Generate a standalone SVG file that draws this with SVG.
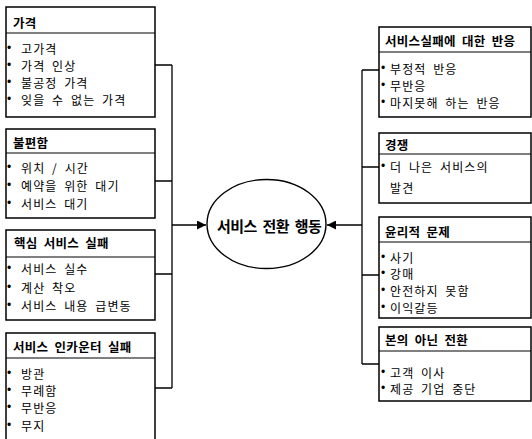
<svg xmlns="http://www.w3.org/2000/svg" width="532" height="439" viewBox="0 0 532 439">
<defs>
<style>
.box{fill:#fff;stroke:#000;stroke-width:1.5}
.div{stroke:#000;stroke-width:1.2}
.ln{fill:none;stroke:#000;stroke-width:1.3}
.t{font-family:"Noto Sans CJK KR","Noto Sans",sans-serif;font-size:12px;letter-spacing:1.1px;word-spacing:3px;fill:#000;dominant-baseline:central}
.bu{font-family:"Liberation Sans",sans-serif;font-size:12px;letter-spacing:0}
.h{font-size:12.5px;font-weight:bold;letter-spacing:0.3px}
.c{font-size:15px;font-weight:bold}
</style>
<marker id="ah" viewBox="0 0 10 10" refX="10" refY="5" markerWidth="9" markerHeight="9" markerUnits="userSpaceOnUse" orient="auto">
<path d="M0,0 L10,5 L0,10 z" fill="#000"/>
</marker>
</defs>
<rect width="532" height="439" fill="#fff"/>
<g id="connectors">
<path class="ln" d="M155,65 H172 M155,181 H172 M155,274 H172 M155,388 H172 M172,65 V388"/>
<path class="ln" d="M172,225 H206" marker-end="url(#ah)"/>
<path class="ln" d="M379,70 H362 M379,167 H362 M379,275 H362 M379,364 H362 M362,70 V364"/>
<path class="ln" d="M362,225 H327" marker-end="url(#ah)"/>
</g>
<g id="center">
<ellipse cx="266.500" cy="224" rx="59.500" ry="44.500" fill="#fff" stroke="#000" stroke-width="1.4"/>
<text class="t c" x="217" y="225" textLength="106" lengthAdjust="spacing">서비스 전환 행동</text>
</g>
<g id="price">
<rect class="box" x="6" y="7" width="149" height="110"/>
<line class="div" x1="6" y1="33" x2="155" y2="33"/>
<text class="t h" x="13" y="22">가격</text>
<text class="t" x="7" y="48"><tspan class="bu">•</tspan><tspan x="21">고가격</tspan></text>
<text class="t" x="7" y="65"><tspan class="bu">•</tspan><tspan x="21">가격 인상</tspan></text>
<text class="t" x="7" y="82"><tspan class="bu">•</tspan><tspan x="21">불공정 가격</tspan></text>
<text class="t" x="7" y="99"><tspan class="bu">•</tspan><tspan x="21">잊을 수 없는 가격</tspan></text>
</g>
<g id="inconvenience">
<rect class="box" x="6" y="129" width="149" height="89"/>
<line class="div" x1="6" y1="153" x2="155" y2="153"/>
<text class="t h" x="13" y="142">불편함</text>
<text class="t" x="7" y="167"><tspan class="bu">•</tspan><tspan x="21">위치 / 시간</tspan></text>
<text class="t" x="7" y="185"><tspan class="bu">•</tspan><tspan x="21">예약을 위한 대기</tspan></text>
<text class="t" x="7" y="203"><tspan class="bu">•</tspan><tspan x="21">서비스 대기</tspan></text>
</g>
<g id="core">
<rect class="box" x="6" y="230" width="149" height="90"/>
<line class="div" x1="6" y1="257" x2="155" y2="257"/>
<text class="t h" x="14" y="242" word-spacing="8">핵심 서비스 실패</text>
<text class="t" x="7" y="268"><tspan class="bu">•</tspan><tspan x="21">서비스 실수</tspan></text>
<text class="t" x="7" y="287"><tspan class="bu">•</tspan><tspan x="21">계산 착오</tspan></text>
<text class="t" x="7" y="305"><tspan class="bu">•</tspan><tspan x="21">서비스 내용 급변동</tspan></text>
</g>
<g id="encounter">
<rect class="box" x="6" y="333" width="149" height="110"/>
<line class="div" x1="6" y1="358" x2="155" y2="358"/>
<text class="t h" x="13" y="346">서비스 인카운터 실패</text>
<text class="t" x="7" y="373"><tspan class="bu">•</tspan><tspan x="21">방관</tspan></text>
<text class="t" x="7" y="390"><tspan class="bu">•</tspan><tspan x="21">무례함</tspan></text>
<text class="t" x="7" y="407"><tspan class="bu">•</tspan><tspan x="21">무반응</tspan></text>
<text class="t" x="7" y="425"><tspan class="bu">•</tspan><tspan x="21">무지</tspan></text>
</g>
<g id="response">
<rect class="box" x="379" y="27" width="152" height="90"/>
<line class="div" x1="379" y1="52" x2="531" y2="52"/>
<text class="t h" x="385" y="40" letter-spacing="0.8">서비스실패에 대한 반응</text>
<text class="t" x="381" y="68"><tspan class="bu">•</tspan><tspan x="390">부정적 반응</tspan></text>
<text class="t" x="381" y="85"><tspan class="bu">•</tspan><tspan x="390">무반응</tspan></text>
<text class="t" x="381" y="102"><tspan class="bu">•</tspan><tspan x="390">마지못해 하는 반응</tspan></text>
</g>
<g id="competition">
<rect class="box" x="379" y="133" width="152" height="70"/>
<line class="div" x1="379" y1="154" x2="531" y2="154"/>
<text class="t h" x="385" y="144">경쟁</text>
<text class="t" x="381" y="166"><tspan class="bu">•</tspan><tspan x="390">더 나은 서비스의</tspan></text>
<text class="t" x="390" y="187">발견</text>
</g>
<g id="ethics">
<rect class="box" x="379" y="217" width="152" height="101"/>
<line class="div" x1="379" y1="242" x2="531" y2="242"/>
<text class="t h" x="385" y="231" word-spacing="6">윤리적 문제</text>
<text class="t" x="381" y="257"><tspan class="bu">•</tspan><tspan x="390">사기</tspan></text>
<text class="t" x="381" y="273"><tspan class="bu">•</tspan><tspan x="390">강매</tspan></text>
<text class="t" x="381" y="290"><tspan class="bu">•</tspan><tspan x="390">안전하지 못함</tspan></text>
<text class="t" x="381" y="307"><tspan class="bu">•</tspan><tspan x="390">이익갈등</tspan></text>
</g>
<g id="involuntary">
<rect class="box" x="379" y="327" width="152" height="74"/>
<line class="div" x1="379" y1="351" x2="531" y2="351"/>
<text class="t h" x="385" y="339" word-spacing="5">본의 아닌 전환</text>
<text class="t" x="381" y="372"><tspan class="bu">•</tspan><tspan x="390">고객 이사</tspan></text>
<text class="t" x="381" y="388"><tspan class="bu">•</tspan><tspan x="390">제공 기업 중단</tspan></text>
</g>
</svg>
